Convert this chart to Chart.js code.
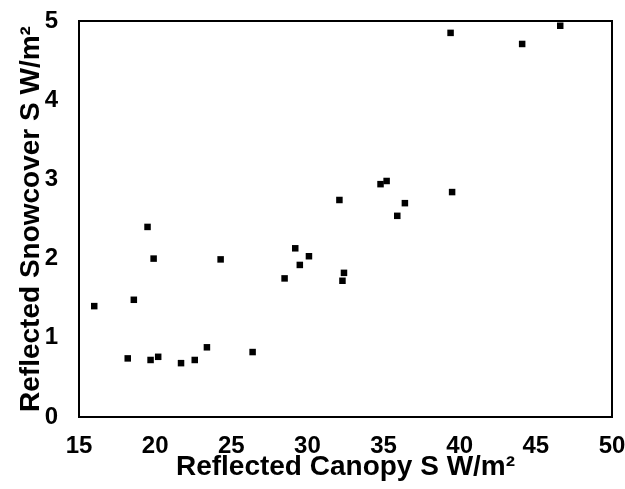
<!DOCTYPE html>
<html>
<head>
<meta charset="utf-8">
<script src="https://cdn.jsdelivr.net/npm/chart.js@4/dist/chart.umd.min.js"></script>
<style>
    html, body { margin: 0; padding: 0; background: #fff; }
    #wrap { width: 625px; height: 489px; }
</style>
</head>
<body>
<div id="wrap"><canvas id="scatter"></canvas></div>
<script>
(function () {
    "use strict";

    // values
    const canopy = [
        16.0, 18.6, 19.5, 19.9, 24.3, 18.2, 19.7, 20.2, 21.7, 22.6,
        23.4, 26.4, 28.5, 29.2, 29.5, 30.1, 32.4, 32.3, 32.1, 39.4,
        44.1, 46.6, 34.8, 35.2, 39.5, 36.4, 35.9,
    ];
    const snowcover = [
        1.40, 1.48, 2.40, 2.00, 1.99, 0.74, 0.72, 0.76, 0.68, 0.72,
        0.88, 0.82, 1.75, 2.13, 1.92, 2.03, 1.82, 1.72, 2.74, 4.85,
        4.71, 4.94, 2.94, 2.98, 2.84, 2.70, 2.54,
    ];
    const xTicks = [15, 20, 25, 30, 35, 40, 45, 50];
    const yTicks = [0, 1, 2, 3, 4, 5];

    const points = canopy.map((x, i) => ({ x: x, y: snowcover[i] }));

    // box round the plot area
    const frame = {
        id: "frame",
        afterDatasetsDraw(chart) {
            const a = chart.chartArea;
            const ctx = chart.ctx;
            ctx.save();
            ctx.strokeStyle = "#000";
            ctx.lineWidth = 2;
            ctx.strokeRect(a.left, a.top, a.right - a.left, a.bottom - a.top);
            ctx.restore();
        },
    };

    const family = "'Liberation Sans', Arial, Helvetica, sans-serif";
    const tickFont = { family: family, weight: "bold", size: 24, lineHeight: 1 };
    const titleFont = { family: family, weight: "bold", size: 28, lineHeight: 1 };

    new Chart(document.getElementById("scatter"), {
        type: "scatter",
        data: {
            datasets: [
                {
                    data: points,
                    pointStyle: "rect",
                    pointRadius: 4.6,
                    backgroundColor: "#000",
                    borderColor: "#000",
                    borderWidth: 0,
                },
            ],
        },
        options: {
            responsive: true,
            maintainAspectRatio: false,
            animation: false,
            layout: {
                autoPadding: false,
                padding: { top: 21, right: 13, left: 15, bottom: 4 },
            },
            plugins: {
                legend: { display: false },
                tooltip: { enabled: false },
            },
            scales: {
                x: {
                    type: "linear",
                    min: 15,
                    max: 50,
                    afterBuildTicks: (axis) => {
                        axis.ticks = xTicks.map((v) => ({ value: v }));
                    },
                    afterFit: (axis) => {
                        axis.height = 68;
                        axis.paddingLeft = 0;
                        axis.paddingRight = 0;
                    },
                    ticks: {
                        color: "#000",
                        padding: 17,
                        maxRotation: 0,
                        font: tickFont,
                    },
                    grid: { display: false, drawTicks: false },
                    border: { display: false },
                    title: {
                        display: true,
                        text: "Reflected Canopy S W/m²",
                        color: "#000",
                        padding: { top: 0, bottom: 4 },
                        font: titleFont,
                    },
                },
                y: {
                    type: "linear",
                    min: 0,
                    max: 5,
                    afterBuildTicks: (axis) => {
                        axis.ticks = yTicks.map((v) => ({ value: v }));
                    },
                    afterFit: (axis) => {
                        axis.width = 64;
                        axis.paddingTop = 0;
                        axis.paddingBottom = 0;
                    },
                    ticks: {
                        color: "#000",
                        padding: 21,
                        font: tickFont,
                    },
                    grid: { display: false, drawTicks: false },
                    border: { display: false },
                    title: {
                        display: true,
                        text: "Reflected Snowcover S W/m²",
                        color: "#000",
                        padding: { top: 2, bottom: 0 },
                        font: titleFont,
                    },
                },
            },
        },
        plugins: [frame],
    });
})();
</script>
</body>
</html>
